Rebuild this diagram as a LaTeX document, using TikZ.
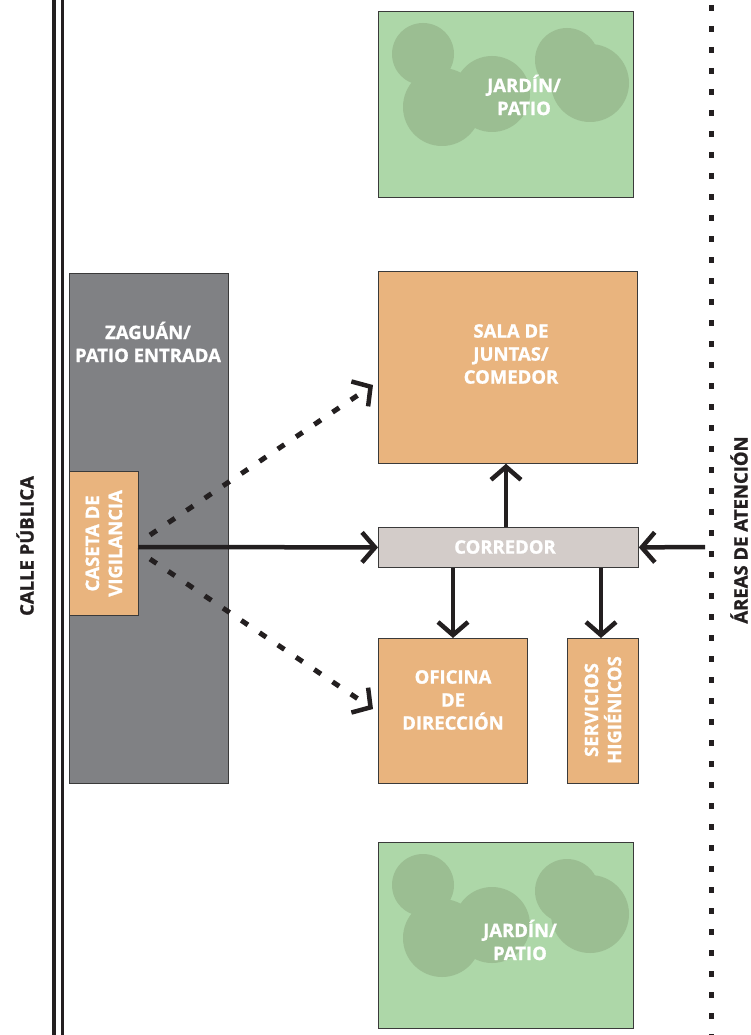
\documentclass[tikz,border=0pt]{standalone}
\usepackage{fontspec}
\setmainfont{Open Sans}[BoldFeatures={FakeBold=1.2}]
\usetikzlibrary{arrows.meta}
\definecolor{verde}{HTML}{ADD7A8}
\definecolor{arbol}{HTML}{9BBE92}
\definecolor{naranja}{HTML}{E9B47E}
\definecolor{gris}{HTML}{808184}
\definecolor{grisclaro}{HTML}{D3CCC9}
\definecolor{borde}{HTML}{3A3A3A}
\definecolor{tinta}{HTML}{231F20}
\begin{document}
\begin{tikzpicture}[x=1pt,y=-1pt,
    caja/.style={draw=borde,line width=0.8pt,inner sep=0pt,anchor=north west},
    texto/.style={text=white,font=\fontsize{18.5}{23}\selectfont\bfseries,align=center},
    rotulo/.style={rotate=90,inner sep=0pt,font=\fontsize{18.5}{22}\selectfont\bfseries,text=tinta},
    flecha/.style={draw=tinta,line width=4.5pt,-{Straight Barb[length=13pt,width=30pt,line width=4.5pt]}},
    puntos/.style={flecha,line width=5pt,dash pattern=on 8pt off 14pt}]
    \useasboundingbox (0,0) rectangle (750,1035);
    % Calle publica
    \draw[tinta,line width=4pt] (53.5,0) -- (53.5,1035);
    \draw[tinta,line width=3.5pt] (62.5,0) -- (62.5,1035);
    \node[rotulo] (calle) at (25,546) {CALLE PÚBLICA};
    % Limite de areas
    \draw[tinta,line width=5pt,dash pattern=on 6pt off 15pt] (711,5) -- (711,1035);
    \node[rotulo] (areas) at (739,530) {ÁREAS DE ATENCIÓN};
    % Jardines
    \foreach \y/\n in {0/jardinA,831/jardinB} {
        \begin{scope}[yshift=-\y pt]
            \node[caja,fill=verde,minimum width=255pt,minimum height=186pt] (\n) at (378,11) {};
            \fill[arbol] (423,54) circle (31) (442,107) circle (39) (492,94) circle (38)
                (567,60) circle (32) (590,83) circle (39);
        \end{scope}
    }
    \node[texto] (tjardinA) at (524,95) {JARDÍN/\\PATIO};
    \node[texto] (tjardinB) at (520,940) {JARDÍN/\\PATIO};
    % Zaguan y caseta
    \node[caja,fill=gris,minimum width=159pt,minimum height=510pt] (zaguan) at (69,273) {};
    \node[texto] (tzaguan) at (148,342) {ZAGUÁN/\\PATIO ENTRADA};
    \node[caja,fill=naranja,minimum width=69pt,minimum height=144pt] (caseta) at (69,471) {};
    \node[texto,rotate=90] (tcaseta) at (caseta.center) {CASETA DE\\VIGILANCIA};
    % Espacios
    \node[caja,fill=naranja,minimum width=259pt,minimum height=192pt] (sala) at (378,271) {};
    \node[texto] (tsala) at (511,354) {SALA DE\\JUNTAS/\\COMEDOR};
    \node[caja,fill=grisclaro,minimum width=260pt,minimum height=40pt] (corredor) at (378,527) {};
    \node[texto] (tcorredor) at (505,547) {CORREDOR};
    \node[caja,fill=naranja,minimum width=149pt,minimum height=145pt] (oficina) at (378,638) {};
    \node[texto] (toficina) at (453,700) {OFICINA\\DE\\DIRECCIÓN};
    \node[caja,fill=naranja,minimum width=71pt,minimum height=145pt] (servicios) at (567,638) {};
    \node[texto,rotate=90] (tservicios) at (603,710) {SERVICIOS\\HIGIÉNICOS};
    % Flechas
    \coordinate (entrada) at (138,547);
    \coordinate (diagA) at (150,535);
    \coordinate (diagB) at (150,559);
    \coordinate (llegaA) at (373,385);
    \coordinate (llegaB) at (373,709);
    \coordinate (lado) at (705,547);
    \draw[flecha] (entrada) -- (corredor.west);
    \draw[puntos] (diagA) -- (llegaA);
    \draw[puntos] (diagB) -- (llegaB);
    \draw[flecha] (corredor.north -| 506,0) -- (sala.south -| 506,0);
    \draw[flecha] (corredor.south -| 453,0) -- (oficina.north -| 453,0);
    \draw[flecha] (corredor.south -| 601,0) -- (servicios.north -| 601,0);
    \draw[flecha] (lado) -- (corredor.east);
\end{tikzpicture}
\end{document}
